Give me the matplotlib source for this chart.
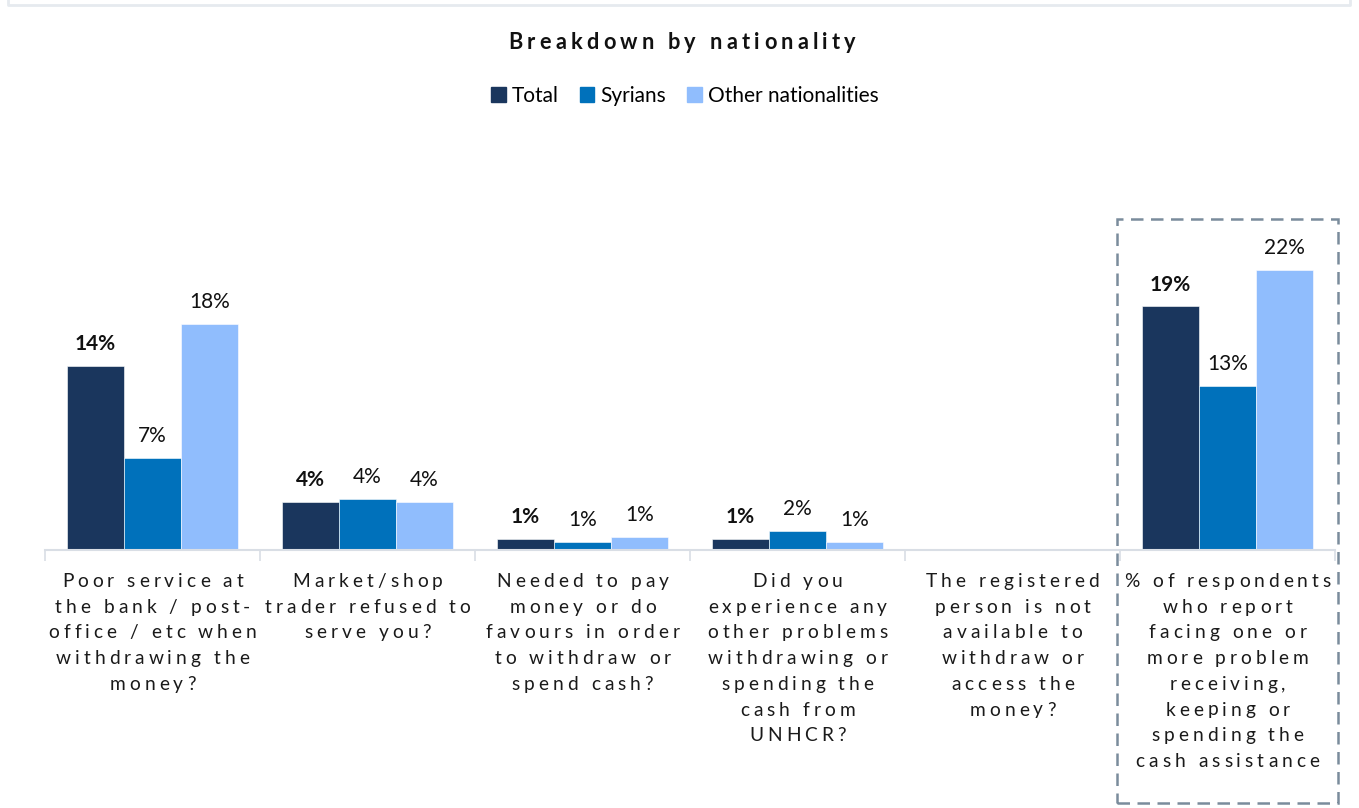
import matplotlib
matplotlib.use("Agg")
import matplotlib.pyplot as plt
from matplotlib.font_manager import FontProperties, findfont
from matplotlib.ft2font import FT2Font
from matplotlib.transforms import IdentityTransform
from matplotlib.patches import Rectangle
from matplotlib.lines import Line2D
import numpy as np

# ---- data -------------------------------------------------------------
title = "Breakdown by nationality"
series_names = ["Total", "Syrians", "Other nationalities"]
categories = [
    "Poor service at\nthe bank / post-\noffice / etc when\nwithdrawing the\nmoney?",
    "Market/shop\ntrader refused to\nserve you?",
    "Needed to pay\nmoney or do\nfavours in order\nto withdraw or\nspend cash?",
    "Did you\nexperience any\nother problems\nwithdrawing or\nspending the\ncash from\nUNHCR?",
    "The registered\nperson is not\navailable to\nwithdraw or\naccess the\nmoney?",
    "% of respondents\nwho report\nfacing one or\nmore problem\nreceiving,\nkeeping or\nspending the\ncash assistance",
]
total = [14.4, 3.8, 0.9, 0.9, 0.0, 19.1]
syrians = [7.2, 4.0, 0.6, 1.5, 0.0, 12.9]
other = [17.7, 3.8, 1.0, 0.6, 0.0, 22.0]

colors = ["#1a365d", "#0071bb", "#90bdfd"]

# ---- figure -------------------------------------------------------------
W, H = 1359, 808
DPI = 100
fig = plt.figure(figsize=(W / DPI, H / DPI), dpi=DPI)
fig.patch.set_facecolor("white")

# axes placed in pixel terms (top-based y)
ax_left, ax_right, ax_top, ax_bottom = 45, 1335, 200, 550
px_per_unit = 12.75
ax = fig.add_axes([ax_left / W, (H - ax_bottom) / H,
                   (ax_right - ax_left) / W, (ax_bottom - ax_top) / H])
ax.set_xlim(-0.5, len(categories) - 0.5)
ax.set_ylim(0, (ax_bottom - ax_top) / px_per_unit)

x = np.arange(len(categories))
bw = 0.265
offsets = [-bw, 0, bw]
all_series = [total, syrians, other]
for vals, off, col, name in zip(all_series, offsets, colors, series_names):
    ax.bar(x + off, vals, width=bw, color=col, edgecolor="white",
           linewidth=0.4, label=name)
    for xi, v in zip(x + off, vals):
        if v <= 0:
            continue
        ax.annotate(f"{v:.0f}%", (xi, v), xytext=(0, 11.5),
                    textcoords="offset points", ha="center", va="baseline",
                    fontsize=15, family="Lato", color="#111111",
                    fontweight="bold" if name == "Total" else "normal")

for s in ["top", "left", "right"]:
    ax.spines[s].set_visible(False)
ax.spines["bottom"].set_color("#d9dee5")
ax.spines["bottom"].set_linewidth(1.5)
ax.set_yticks([])
ax.set_xticks(np.arange(len(categories) + 1) - 0.5)
ax.set_xticklabels([])
ax.tick_params(axis="x", length=8, width=1.2, color="#d9dee5")


# ---- letter-spaced text helper -----------------------------------------
def spaced_line(xc, y_top, s, family, size, weight, spacing, color="#1a1a1a"):
    """Draw one line centred at xc, baseline at y_top (pixels from top)."""
    prop = FontProperties(family=family, size=size, weight=weight)
    font = FT2Font(findfont(prop))
    font.set_size(size, DPI)
    adv = []
    for c in s:
        g = font.load_char(ord(c))
        adv.append(g.linearHoriAdvance / 65536.0)
    total_w = sum(adv) + spacing * (len(s) - 1)
    cx = xc - total_w / 2
    for c, a in zip(s, adv):
        if c != " ":
            fig.text(cx, H - y_top, c, transform=IdentityTransform(),
                     fontproperties=prop, color=color, ha="left",
                     va="baseline")
        cx += a + spacing


# title
spaced_line(682, 49, title, "Lato", 15.7, "bold", 4.3, color="#111111")

# legend
fig.legend(handles=[Rectangle((0, 0), 1, 1, color=c) for c in colors],
           labels=series_names, loc="center", bbox_to_anchor=(685 / W, 1 - 96 / H),
           ncol=3, frameon=False, prop={"family": "Lato", "size": 15},
           handlelength=0.7, handleheight=0.7, handletextpad=0.3,
           columnspacing=1.0)

# category labels
line_h = 25.7
for i, cat in enumerate(categories):
    xc = ax.transData.transform((i, 0))[0]
    for j, line in enumerate(cat.split("\n")):
        spaced_line(xc, 587 + j * line_h, line, "Lato", 13.8, "normal", 4.0)

# outer chart border
fig.add_artist(Line2D([8, 8, 1350, 1350], [H, H - 5, H - 5, H],
                      transform=IdentityTransform(), color="#e6eaef", lw=2))

# dashed highlight box around the summary category
fig.add_artist(Rectangle((1117, H - 803), 1338 - 1117, 803 - 219,
                         transform=IdentityTransform(), fill=False,
                         edgecolor="#7a8c9c", lw=1.8, linestyle=(0, (5, 3))))

fig.savefig("out.png", dpi=DPI)
